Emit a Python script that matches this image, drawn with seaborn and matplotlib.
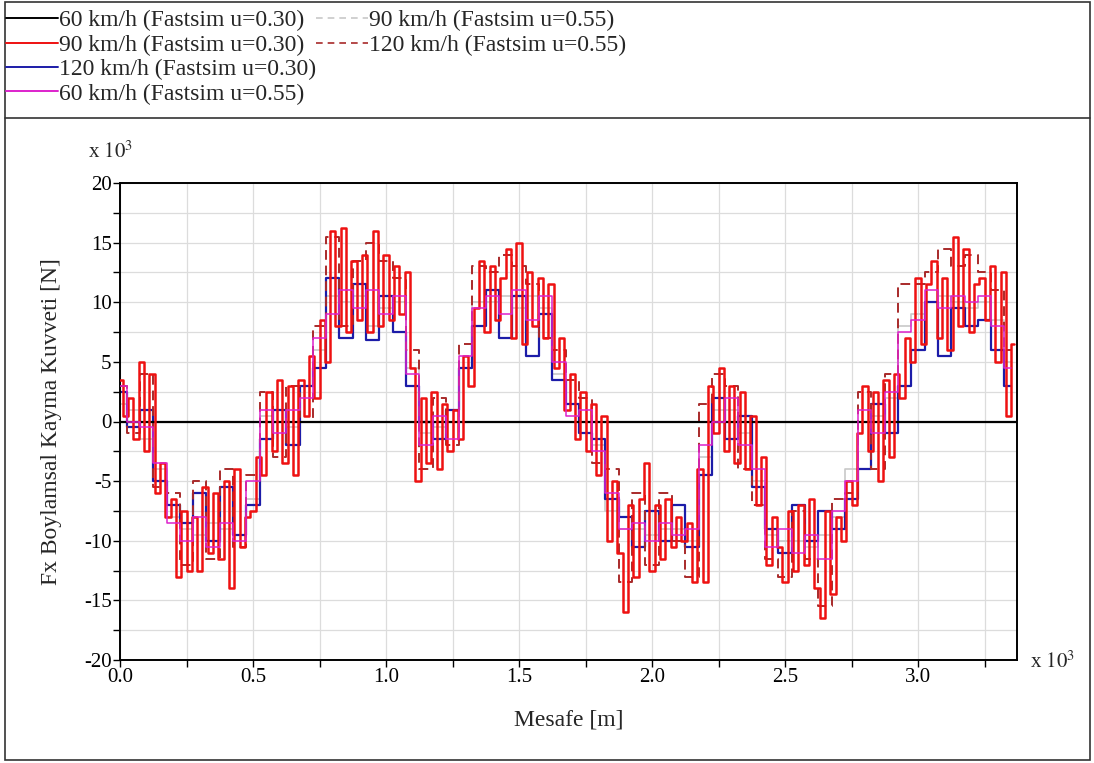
import numpy as np
import pandas as pd
import matplotlib
matplotlib.use("Agg")
import matplotlib.pyplot as plt
import seaborn as sns
from matplotlib.lines import Line2D
from matplotlib.patches import Rectangle
from matplotlib.ticker import MultipleLocator, FormatStrFormatter

# ---------------- data (distance in x10^3 m, force in x10^3 N) ----------------
step_red = 0.02   # sampling of the 90 km/h (u=0.30) trace
step_oth = 0.05   # sampling of the other traces

red_90_030 = [
    3.5, 0.5, 2.0, -1.5, 5.0, -2.5, 4.0, -6.0, -3.5, -8.0,
    -6.5, -13.0, -7.5, -12.5, -8.0, -12.5, -5.5, -11.0, -6.0, -11.5,
    -5.0, -14.0, -4.0, -10.5, -8.0, -7.5, -3.0, -4.5, 2.5, -2.5,
    3.5, -3.5, 3.0, -4.5, 3.5, 0.5, 5.5, 2.0, 8.5, 5.0,
    16.0, 8.0, 16.2, 7.5, 13.5, 8.5, 14.0, 7.5, 16.0, 8.0,
    14.0, 8.5, 13.0, 9.0, 12.5, 4.5, -5.0, 2.0, -3.5, 2.5,
    -4.0, 1.5, -2.5, 1.0, -1.5, 5.5, 3.0, 9.5, 13.5, 7.5,
    13.0, 8.5, 12.0, 14.5, 7.0, 15.0, 6.5, 12.5, 8.0, 12.0,
    7.0, 11.5, 4.5, 7.0, 1.0, 4.0, -1.5, 2.5, -2.5, 1.5,
    -4.5, 0.5, -10.0, -5.0, -11.0, -16.0, -7.0, -13.0, -6.5, -3.5,
    -12.5, -7.0, -11.5, -6.5, -10.5, -8.0, -10.0, -8.5, -13.5, -4.0,
    -13.5, 3.0, -1.0, 4.5, -2.5, 3.0, -3.5, 2.5, -4.0, 0.5,
    -7.0, -3.0, -12.0, -8.0, -10.5, -13.5, -7.5, -12.5, -7.0, -12.0,
    -6.5, -14.0, -16.5, -7.5, -14.5, -8.0, -10.0, -5.0, -7.0, -1.0,
    3.0, -2.5, 2.5, -5.0, 3.5, -3.0, 4.0, 2.0, 7.0, 5.0,
    12.0, 6.5, 11.5, 13.5, 7.0, 12.0, 6.0, 15.5, 8.0, 14.5,
    7.5, 11.5, 12.0, 8.5, 13.0, 5.0, 12.5, 0.5, 6.5,
]

blue_120_030 = [
    2.5, -0.5, 1.0, -5.0, -7.0, -8.5, -6.0, -10.0, -5.5, -9.5,
    -7.0, -1.5, 1.0, -2.0, 3.0, 4.5, 12.0, 7.0, 11.5, 6.8,
    10.5, 7.5, 3.0, 0.0, -1.5, 1.0, 4.5, 8.0, 11.0, 7.0,
    10.5, 5.5, 9.0, 3.5, 1.5, -1.0, -1.5, -6.5, -8.0, -10.5,
    -7.5, -10.0, -7.0, -10.5, -4.5, 2.0, -1.5, 0.5, -5.5, -9.0,
    -11.0, -7.0, -10.0, -7.5, -9.0, -6.5, -4.0, 1.5, -1.0, 3.0,
    6.0, 10.0, 5.5, 9.5, 8.0, 8.5, 6.0, 3.0,
]

magenta_60_055 = [
    3.0, 0.0, -0.5, -3.5, -8.5, -10.0, -8.0, -10.5, -8.5, -10.0,
    -5.0, 1.0, -1.0, 1.0, 2.0, 7.0, 9.0, 11.0, 9.5, 11.0,
    9.0, 10.5, 4.0, -2.0, 0.5, -1.5, 5.5, 9.5, 10.5, 9.0,
    11.0, 8.5, 10.5, 5.0, 0.5, 1.0, -2.5, -6.0, -9.0, -8.5,
    -10.0, -8.5, -9.5, -9.0, -2.0, 0.0, 2.0, -2.0, -4.0, -10.5,
    -9.0, -11.0, -9.5, -11.5, -7.5, -5.0, 1.0, -1.0, 2.5, 7.5,
    8.5, 11.0, 9.5, 10.5, 10.0, 10.5, 8.0, 4.5,
]

gray_90_055 = [
    1.5, 1.0, -1.5, -4.0, -8.0, -9.0, -9.5, -8.5, -9.0, -9.5,
    -6.5, 0.5, 0.0, -0.5, 3.0, 6.0, 10.5, 10.0, 10.5, 8.0,
    9.5, 10.0, 4.5, -1.0, -0.5, 0.0, 4.5, 10.0, 10.0, 10.5,
    9.5, 10.5, 9.5, 4.0, 1.5, 0.0, -2.0, -7.5, -9.0, -9.0,
    -9.5, -9.0, -9.0, -10.0, -3.0, 1.0, 1.0, -1.0, -5.0, -9.5,
    -10.0, -10.0, -10.5, -9.5, -8.0, -4.0, 0.0, 0.5, 2.0, 8.0,
    9.0, 10.0, 10.5, 10.0, 9.5, 10.0, 8.5, 5.0,
]

darkred_120_055 = [
    3.0, -1.0, 4.0, -5.5, -6.0, -12.0, -5.0, -11.5, -4.0, -10.5,
    -4.5, 2.5, -3.0, 3.0, 0.0, 8.0, 15.5, 8.0, 13.5, 15.0,
    13.5, 12.0, 6.0, -4.0, 2.0, -2.0, 6.5, 13.0, 12.5, 14.0,
    13.0, 11.5, 7.0, 6.0, 3.5, 2.0, -3.5, -4.0, -13.5, -6.0,
    -12.0, -6.0, -10.0, -13.0, 1.5, 4.0, 3.0, -4.0, -7.0, -11.5,
    -13.0, -7.5, -11.5, -15.5, -6.5, -6.0, 2.5, -4.0, 4.0, 11.5,
    11.5, 12.5, 14.5, 13.0, 14.0, 12.5, 11.0, 6.0,
]

labels = [
    "60 km/h (Fastsim u=0.30)",
    "90 km/h (Fastsim u=0.30)",
    "120 km/h (Fastsim u=0.30)",
    "60 km/h (Fastsim u=0.55)",
    "90 km/h (Fastsim u=0.55)",
    "120 km/h (Fastsim u=0.55)",
]

def frame(vals, step):
    return pd.DataFrame({"x": np.arange(len(vals)) * step, "y": vals})

# ---------------- figure ----------------
sns.set_theme(style="white")
plt.rcParams["font.family"] = ["Liberation Serif", "DejaVu Serif"]
plt.rcParams["mathtext.fontset"] = "stix"
plt.rcParams["axes.unicode_minus"] = False

fig = plt.figure(figsize=(10.94, 7.63), dpi=100)
ax = fig.add_axes([120 / 1094, 1 - 660 / 763, (1017 - 120) / 1094, (660 - 183) / 763])

c_black = "#000000"
c_red = "#ee1111"
c_blue = "#1c1ca8"
c_mag = "#dd22cc"
c_gray = "#c8c8c8"
c_dred = "#a82a2a"

ax.axhline(0, color=c_black, lw=1.6, zorder=3)

sns.lineplot(data=frame(gray_90_055, step_oth), x="x", y="y", ax=ax, color=c_gray,
             lw=1.2, drawstyle="steps-mid", dashes=False, estimator=None, sort=False, zorder=2)
sns.lineplot(data=frame(blue_120_030, step_oth), x="x", y="y", ax=ax, color=c_blue,
             lw=1.6, drawstyle="steps-mid", estimator=None, sort=False, zorder=2)
sns.lineplot(data=frame(darkred_120_055, step_oth), x="x", y="y", ax=ax, color=c_dred,
             lw=1.4, drawstyle="steps-mid", linestyle=(0, (5, 3)), estimator=None, sort=False, zorder=2)
sns.lineplot(data=frame(red_90_030, step_red), x="x", y="y", ax=ax, color=c_red,
             lw=1.8, drawstyle="steps-mid", estimator=None, sort=False, zorder=4)
sns.lineplot(data=frame(magenta_60_055, step_oth), x="x", y="y", ax=ax, color=c_mag,
             lw=1.1, drawstyle="steps-mid", estimator=None, sort=False, zorder=5)

ax.set_xlim(0, 3.372)
ax.set_ylim(-20, 20)
ax.xaxis.set_major_locator(MultipleLocator(0.5))
ax.xaxis.set_minor_locator(MultipleLocator(0.25))
ax.xaxis.set_major_formatter(FormatStrFormatter("%.1f"))
ax.yaxis.set_major_locator(MultipleLocator(5))
ax.yaxis.set_minor_locator(MultipleLocator(2.5))
ax.grid(True, which="both", color="#dcdcdc", lw=0.9)
ax.set_axisbelow(True)
for s in ax.spines.values():
    s.set_color("black")
    s.set_linewidth(1.4)
ax.tick_params(which="both", direction="out", bottom=True, left=True, top=False, right=False,
               colors="black", labelsize=15, width=1.0)
ax.tick_params(which="major", length=5, pad=1)
ax.tick_params(which="minor", length=5)
ax.set_xlabel("Mesafe [m]", fontsize=17, labelpad=16)
ax.set_ylabel("Fx Boylamsal Kayma Kuvveti [N]", fontsize=17, labelpad=16)

fig.text(88 / 1094, 1 - 152 / 763, r"x $10^3$", fontsize=15, ha="left", va="center")
fig.text(1030 / 1094, 1 - 662 / 763, r"x $10^3$", fontsize=15, ha="left", va="center")

# ---------------- legend ----------------
h1 = [Line2D([], [], color=c_black, lw=1.4),
      Line2D([], [], color=c_red, lw=1.4),
      Line2D([], [], color=c_blue, lw=1.4),
      Line2D([], [], color=c_mag, lw=1.4)]
h2 = [Line2D([], [], color=c_gray, lw=1.2, ls=(0, (4, 3))),
      Line2D([], [], color=c_dred, lw=1.2, ls=(0, (4, 3)))]
leg_kw = dict(frameon=False, fontsize=17, handlelength=2.2, handletextpad=0.05,
              labelspacing=0.12, borderaxespad=0, borderpad=0)
fig.legend(h1, labels[:4], loc="upper left", bbox_to_anchor=(6 / 1094, 1 - 10 / 763), **leg_kw)
fig.legend(h2, labels[4:], loc="upper left", bbox_to_anchor=(316 / 1094, 1 - 10 / 763), **leg_kw)

# ---------------- outer frames ----------------
fig.add_artist(Rectangle((5 / 1094, 1 - 760 / 763), 1085 / 1094, 758 / 763,
                         transform=fig.transFigure, fill=False, ec="#333333", lw=1.2))
fig.add_artist(Line2D([5 / 1094, 1090 / 1094], [1 - 118 / 763, 1 - 118 / 763],
                      transform=fig.transFigure, color="#333333", lw=1.2))

fig.savefig("out.png", dpi=100, facecolor="white")
